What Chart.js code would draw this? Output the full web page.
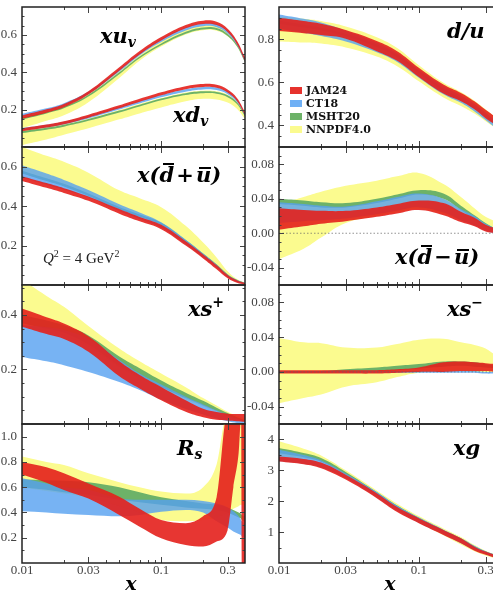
<!DOCTYPE html>
<html><head><meta charset="utf-8">
<script src="https://cdn.jsdelivr.net/npm/chart.js@4/dist/chart.umd.min.js"></script>
<style>
html,body{margin:0;padding:0;background:#fff;overflow:hidden;width:493px;height:592px}
#wrap{position:relative;width:493px;height:592px;overflow:hidden;background:#fff}
canvas{position:absolute}
.lab{position:absolute;font-family:"DejaVu Serif";font-weight:bold;font-style:italic;font-size:21px;line-height:21px;color:#000;white-space:nowrap}
.lab sub{font-size:14px;line-height:0;vertical-align:-4px}
.lab sup{font-size:14px;line-height:0;vertical-align:9px}
.ob{position:relative;display:inline-block}
.ob::before{content:"";position:absolute;left:4px;right:0px;border-top:2px solid #000}
.obd::before{top:-1px}
.obu::before{top:3px;left:3px}
.q{position:absolute;font-family:"Liberation Serif";font-size:15px;line-height:15px;color:#222;white-space:nowrap}
.q sup{font-size:10px;line-height:0;vertical-align:6px}
.leg{position:absolute;font-family:"DejaVu Serif";font-weight:bold;font-size:11px;line-height:11px;color:#111;white-space:nowrap}
.sw{position:absolute;width:12px;height:7px}
.xt{position:absolute;width:40px;text-align:center;font-family:"DejaVu Serif";font-weight:bold;font-style:italic;font-size:19px;line-height:19px;color:#000}
</style>
</head><body>
<div id="wrap">
<canvas id="c1"></canvas><canvas id="c2"></canvas><canvas id="c3"></canvas><canvas id="c4"></canvas>
<canvas id="c5"></canvas><canvas id="c6"></canvas><canvas id="c7"></canvas><canvas id="c8"></canvas>

<div class="lab" style="left:100px;top:25px">xu<sub>v</sub></div>
<div class="lab" style="left:173px;top:104px">xd<sub>v</sub></div>
<div class="lab" style="left:447px;top:20px">d/u</div>
<div class="lab" style="left:137px;top:164px">x(<span class="ob obd">d</span>&#8202;+&#8202;<span class="ob obu">u</span>)</div>
<div class="q" style="left:43px;top:251px"><i>Q</i><sup>2</sup> = 4 GeV<sup>2</sup></div>
<div class="lab" style="left:395px;top:246px">x(<span class="ob obd">d</span>&#8202;&minus;&#8202;<span class="ob obu">u</span>)</div>
<div class="lab" style="left:188px;top:298px">xs<sup>+</sup></div>
<div class="lab" style="left:447px;top:298px">xs<sup>&minus;</sup></div>
<div class="lab" style="left:177px;top:437px">R<sub>s</sub></div>
<div class="lab" style="left:453px;top:437px">xg</div>

<div class="sw" style="left:290px;top:86.5px;background:rgb(230,50,45)"></div>
<div class="leg" style="left:306px;top:84.7px">JAM24</div>
<div class="sw" style="left:290px;top:99.7px;background:rgb(111,176,245)"></div>
<div class="leg" style="left:306px;top:97.9px">CT18</div>
<div class="sw" style="left:290px;top:112.9px;background:rgb(109,178,104)"></div>
<div class="leg" style="left:306px;top:111.1px">MSHT20</div>
<div class="sw" style="left:290px;top:126.1px;background:rgb(251,251,143)"></div>
<div class="leg" style="left:306px;top:124.3px">NNPDF4.0</div>

<div class="xt" style="left:111px;top:574px">x</div>
<div class="xt" style="left:370px;top:574px">x</div>
</div>
<script>
// ---------------- data ----------------
const X = [0.01, 0.015, 0.02, 0.03, 0.05, 0.07, 0.1, 0.15, 0.2, 0.25, 0.3, 0.35, 0.4];
const RS_X = [0.01, 0.015, 0.02, 0.03, 0.05, 0.07, 0.1, 0.15, 0.2, 0.25, 0.3, 0.33, 0.36, 0.375, 0.38, 0.4];
const X_TICKS = [0.01, 0.03, 0.1, 0.3];
const X_LABELS = ['0.01', '0.03', '0.1', '0.3'];
const X_MINOR = [0.02, 0.04, 0.05, 0.06, 0.07, 0.08, 0.09, 0.2, 0.4];

// xu_v
const XUV_JAM24 = { lo: [0.151,0.184,0.213,0.281,0.409,0.496,0.571,0.636,0.659,0.653,0.616,0.551,0.461],
                    hi: [0.169,0.202,0.231,0.299,0.427,0.514,0.589,0.654,0.677,0.671,0.634,0.569,0.479] };
const XUV_CT18  = { lo: [0.163,0.192,0.220,0.283,0.403,0.490,0.562,0.624,0.647,0.642,0.607,0.547,0.457],
                    hi: [0.178,0.207,0.235,0.297,0.417,0.504,0.577,0.640,0.663,0.658,0.623,0.563,0.473] };
const XUV_MSHT20 = { lo: [0.147,0.180,0.207,0.270,0.390,0.475,0.545,0.607,0.630,0.627,0.595,0.540,0.455],
                     hi: [0.157,0.190,0.217,0.280,0.400,0.485,0.555,0.617,0.640,0.637,0.605,0.550,0.465] };
const XUV_NNPDF = { lo: [0.100,0.140,0.170,0.240,0.370,0.462,0.538,0.603,0.626,0.623,0.593,0.538,0.453],
                    hi: [0.160,0.190,0.218,0.282,0.405,0.490,0.565,0.628,0.650,0.648,0.612,0.552,0.468] };
// xd_v
const XDV_JAM24 = { lo: [0.084,0.104,0.122,0.157,0.207,0.242,0.277,0.310,0.322,0.317,0.292,0.247,0.172],
                    hi: [0.100,0.120,0.138,0.173,0.223,0.258,0.293,0.326,0.338,0.333,0.308,0.263,0.188] };
const XDV_CT18  = { lo: [0.088,0.105,0.121,0.153,0.201,0.233,0.266,0.296,0.308,0.305,0.283,0.241,0.168],
                    hi: [0.102,0.119,0.135,0.167,0.215,0.247,0.280,0.310,0.322,0.319,0.297,0.255,0.182] };
const XDV_MSHT20 = { lo: [0.075,0.093,0.109,0.140,0.185,0.217,0.250,0.278,0.288,0.285,0.267,0.230,0.165],
                     hi: [0.085,0.103,0.119,0.150,0.195,0.227,0.260,0.288,0.298,0.295,0.277,0.240,0.175] };
const XDV_NNPDF = { lo: [0.010,0.040,0.065,0.100,0.148,0.180,0.212,0.245,0.258,0.255,0.238,0.205,0.150],
                    hi: [0.090,0.108,0.123,0.152,0.198,0.230,0.262,0.292,0.302,0.298,0.280,0.242,0.175] };
// d/u
const DU_JAM24 = { lo: [0.838,0.828,0.820,0.803,0.745,0.700,0.625,0.548,0.512,0.475,0.434,0.405,0.378],
                   hi: [0.900,0.885,0.872,0.843,0.792,0.745,0.668,0.590,0.551,0.512,0.473,0.442,0.415] };
const DU_CT18  = { lo: [0.850,0.830,0.815,0.790,0.740,0.695,0.622,0.545,0.505,0.465,0.425,0.390,0.360],
                   hi: [0.915,0.895,0.878,0.840,0.785,0.735,0.660,0.583,0.540,0.500,0.460,0.425,0.395] };
const DU_MSHT20 = { lo: [0.872,0.855,0.842,0.814,0.764,0.716,0.642,0.559,0.516,0.477,0.439,0.404,0.372],
                    hi: [0.886,0.868,0.854,0.826,0.776,0.728,0.654,0.571,0.528,0.489,0.451,0.416,0.384] };
const DU_NNPDF = { lo: [0.790,0.785,0.780,0.762,0.720,0.675,0.605,0.530,0.490,0.455,0.420,0.390,0.360],
                   hi: [0.905,0.895,0.885,0.860,0.810,0.760,0.680,0.598,0.555,0.515,0.475,0.440,0.410] };
// x(dbar+ubar)
const SEA_JAM24 = { lo: [0.528,0.493,0.467,0.427,0.362,0.323,0.283,0.200,0.135,0.080,0.034,0.012,0.003],
                    hi: [0.552,0.517,0.491,0.449,0.385,0.345,0.305,0.222,0.155,0.100,0.051,0.024,0.010] };
const SEA_CT18  = { lo: [0.545,0.508,0.483,0.445,0.375,0.335,0.290,0.205,0.140,0.087,0.038,0.015,0.004],
                    hi: [0.607,0.565,0.533,0.482,0.410,0.368,0.318,0.230,0.160,0.103,0.052,0.025,0.010] };
const SEA_MSHT20 = { lo: [0.566,0.527,0.500,0.452,0.384,0.346,0.304,0.216,0.150,0.095,0.045,0.018,0.005],
                     hi: [0.580,0.541,0.513,0.464,0.396,0.358,0.316,0.228,0.160,0.105,0.055,0.026,0.010] };
const SEA_NNPDF = { lo: [0.575,0.535,0.508,0.460,0.390,0.350,0.305,0.220,0.155,0.100,0.048,0.020,0.005],
                    hi: [0.700,0.655,0.625,0.570,0.480,0.440,0.395,0.300,0.215,0.140,0.070,0.030,0.012] };
// x(dbar-ubar)
const ASY_JAM24 = { lo: [0.004,0.008,0.011,0.014,0.019,0.023,0.027,0.021,0.013,0.008,0.002,0.000,-0.002],
                    hi: [0.029,0.027,0.026,0.026,0.030,0.034,0.038,0.035,0.025,0.018,0.010,0.006,0.003] };
const ASY_CT18  = { lo: [0.012,0.014,0.015,0.017,0.022,0.026,0.030,0.024,0.015,0.009,0.003,0.000,-0.002],
                    hi: [0.036,0.034,0.032,0.031,0.037,0.042,0.046,0.040,0.028,0.020,0.011,0.006,0.003] };
const ASY_MSHT20 = { lo: [0.034,0.032,0.030,0.030,0.035,0.040,0.045,0.040,0.027,0.016,0.008,0.003,0.000],
                     hi: [0.040,0.038,0.036,0.035,0.040,0.045,0.050,0.046,0.032,0.021,0.012,0.006,0.002] };
const ASY_NNPDF = { lo: [-0.030,-0.018,-0.005,0.012,0.020,0.024,0.028,0.022,0.015,0.010,0.005,0.002,0.000],
                    hi: [0.034,0.042,0.048,0.055,0.061,0.066,0.070,0.057,0.042,0.029,0.019,0.014,0.010] };
// xs+
const SP_JAM24 = { lo: [0.357,0.330,0.312,0.265,0.175,0.130,0.087,0.045,0.025,0.016,0.013,0.010,0.008],
                   hi: [0.424,0.392,0.369,0.322,0.230,0.180,0.136,0.087,0.056,0.044,0.038,0.037,0.037] };
const SP_CT18  = { lo: [0.246,0.230,0.216,0.191,0.154,0.125,0.090,0.055,0.035,0.020,0.010,0.004,0.000],
                   hi: [0.363,0.355,0.345,0.312,0.235,0.185,0.145,0.100,0.072,0.050,0.032,0.020,0.010] };
const SP_MSHT20 = { lo: [0.370,0.350,0.335,0.292,0.215,0.175,0.135,0.095,0.068,0.048,0.030,0.018,0.008],
                    hi: [0.400,0.380,0.362,0.325,0.248,0.205,0.160,0.115,0.085,0.060,0.040,0.025,0.014] };
const SP_NNPDF = { lo: [0.360,0.340,0.325,0.285,0.210,0.170,0.130,0.090,0.065,0.045,0.028,0.016,0.006],
                   hi: [0.530,0.470,0.430,0.360,0.277,0.230,0.185,0.135,0.095,0.068,0.045,0.030,0.020] };
// xs-
const SM_JAM24 = { lo: [-0.002,-0.002,-0.002,-0.002,-0.002,-0.001,0.000,0.000,0.001,0.001,0.001,0.000,-0.001],
                   hi: [0.002,0.002,0.002,0.002,0.002,0.003,0.005,0.011,0.012,0.011,0.010,0.009,0.008] };
const SM_CT18  = { lo: [-0.001,-0.001,-0.001,-0.001,-0.001,-0.001,-0.001,-0.001,-0.001,-0.001,-0.002,-0.002,-0.002],
                   hi: [0.001,0.001,0.001,0.001,0.001,0.001,0.001,0.001,0.001,0.001,0.000,0.000,0.000] };
const SM_MSHT20 = { lo: [-0.001,-0.001,-0.001,0.000,0.001,0.002,0.004,0.006,0.007,0.006,0.005,0.004,0.003],
                    hi: [0.001,0.001,0.001,0.003,0.005,0.007,0.009,0.012,0.012,0.011,0.009,0.007,0.005] };
const SM_NNPDF = { lo: [-0.036,-0.030,-0.026,-0.017,-0.012,-0.006,-0.001,0.001,0.001,0.000,0.000,0.000,0.000],
                   hi: [0.039,0.034,0.033,0.028,0.028,0.032,0.037,0.038,0.034,0.031,0.027,0.020,0.015] };
// R_s (on RS_X)
const RS_JAM24 = { lo: [0.70,0.636,0.578,0.51,0.38,0.287,0.195,0.143,0.13,0.17,0.26,0.60,0.87,1.15,0.0,0.0],
                   hi: [0.80,0.757,0.71,0.63,0.525,0.43,0.34,0.315,0.37,0.52,1.2,1.2,1.2,1.2,1.2,1.2] };
const RS_CT18  = { lo: [0.41,0.40,0.39,0.38,0.37,0.38,0.405,0.42,0.40,0.33,0.28,0.25,0.23,0.22,0.21,0.20],
                   hi: [0.67,0.63,0.60,0.58,0.51,0.50,0.50,0.50,0.49,0.47,0.44,0.41,0.37,0.34,0.33,0.30] };
const RS_MSHT20 = { lo: [0.60,0.58,0.56,0.54,0.50,0.48,0.46,0.44,0.43,0.42,0.40,0.38,0.36,0.35,0.34,0.33],
                    hi: [0.66,0.655,0.65,0.64,0.60,0.56,0.52,0.49,0.47,0.46,0.44,0.42,0.40,0.39,0.38,0.37] };
const RS_NNPDF = { lo: [0.60,0.57,0.55,0.52,0.45,0.40,0.34,0.33,0.34,0.36,0.40,0.43,0.45,0.46,0.46,0.46],
                   hi: [0.842,0.80,0.776,0.71,0.64,0.60,0.565,0.55,0.60,0.78,1.2,1.2,1.2,1.2,1.2,1.2] };
// xg
const XG_JAM24 = { lo: [3.29,3.20,3.07,2.70,2.10,1.65,1.29,0.91,0.64,0.40,0.27,0.17,0.10],
                   hi: [3.45,3.37,3.25,2.86,2.26,1.81,1.45,1.07,0.80,0.53,0.37,0.26,0.17] };
const XG_CT18  = { lo: [3.30,3.21,3.09,2.74,2.12,1.68,1.30,0.92,0.64,0.42,0.28,0.18,0.11],
                   hi: [3.67,3.50,3.33,2.90,2.30,1.85,1.47,1.08,0.80,0.55,0.38,0.27,0.18] };
const XG_MSHT20 = { lo: [3.55,3.42,3.28,2.86,2.22,1.78,1.40,1.00,0.74,0.50,0.34,0.24,0.16],
                    hi: [3.72,3.56,3.40,2.95,2.30,1.86,1.47,1.07,0.80,0.55,0.38,0.27,0.18] };
const XG_NNPDF = { lo: [3.45,3.38,3.28,2.88,2.22,1.75,1.33,0.90,0.60,0.38,0.24,0.15,0.09],
                   hi: [3.94,3.70,3.48,3.00,2.35,1.92,1.52,1.12,0.84,0.58,0.40,0.28,0.19] };

// y tick labels
const Y1_TICKS = [0.2, 0.4, 0.6];          const Y1_LABELS = ['0.2', '0.4', '0.6'];
const Y2_TICKS = [0.4, 0.6, 0.8];          const Y2_LABELS = ['0.4', '0.6', '0.8'];
const Y3_TICKS = [0.2, 0.4, 0.6];          const Y3_LABELS = ['0.2', '0.4', '0.6'];
const Y4_TICKS = [-0.04, 0, 0.04, 0.08];   const Y4_LABELS = ['-0.04', '0.00', '0.04', '0.08'];
const Y5_TICKS = [0.2, 0.4];               const Y5_LABELS = ['0.2', '0.4'];
const Y6_TICKS = [-0.04, 0, 0.04, 0.08];   const Y6_LABELS = ['-0.04', '0.00', '0.04', '0.08'];
const Y7_TICKS = [0.2, 0.4, 0.6, 0.8, 1.0]; const Y7_LABELS = ['0.2', '0.4', '0.6', '0.8', '1.0'];
const Y8_TICKS = [1, 2, 3, 4];             const Y8_LABELS = ['1', '2', '3', '4'];

// ---------------- styles ----------------
const COL_JAM = 'rgba(228,32,28,0.9)';
const COL_CT = 'rgba(85,160,240,0.8)';
const COL_MSHT = 'rgb(109,178,104)';
const COL_NN = 'rgb(251,251,143)';

const GEOM = {
  colLeft: [0, 245], yW: [22, 34], plotW: [223, 224],
  top: [7, 147, 285, 424], bottom: [147, 285, 424, 563]
};

function minorRange(min, max, step) {
  const out = [];
  const n0 = Math.ceil(min / step - 1e-9), n1 = Math.floor(max / step + 1e-9);
  for (let n = n0; n <= n1; n++) out.push(+(n * step).toFixed(6));
  return out;
}

const frameTicks = {
  id: 'frameTicks',
  afterDatasetsDraw(chart, args, o) {
    const {ctx, chartArea: a} = chart;
    const xs = chart.scales.x, ys = chart.scales.y;
    ctx.save();
    if (o.zero) {
      ctx.beginPath();
      ctx.setLineDash([1.5, 2]);
      ctx.strokeStyle = '#666'; ctx.lineWidth = 0.7;
      const py = ys.getPixelForValue(0);
      ctx.moveTo(a.left, py); ctx.lineTo(a.right, py); ctx.stroke();
      ctx.setLineDash([]);
    }
    ctx.strokeStyle = '#444'; ctx.lineWidth = 1;
    ctx.beginPath();
    const yt = (v, len) => { const p = Math.round(ys.getPixelForValue(v)) + 0.5;
      if (p < a.top + 1 || p > a.bottom - 1) return;
      ctx.moveTo(a.left, p); ctx.lineTo(a.left + len, p);
      ctx.moveTo(a.right, p); ctx.lineTo(a.right - len, p); };
    const xt = (v, len) => { const p = Math.round(xs.getPixelForValue(v)) + 0.5;
      if (p < a.left + 1 || p > a.right - 1) return;
      ctx.moveTo(p, a.bottom); ctx.lineTo(p, a.bottom - len);
      ctx.moveTo(p, a.top); ctx.lineTo(p, a.top + len); };
    o.yMajor.forEach(v => yt(v, 5));
    minorRange(ys.min, ys.max, o.yStep).forEach(v => { if (!o.yMajor.some(m => Math.abs(m - v) < 1e-9)) yt(v, 2.5); });
    X_TICKS.forEach(v => xt(v, 6));
    X_MINOR.forEach(v => xt(v, 3));
    ctx.stroke();
    ctx.strokeStyle = '#222'; ctx.lineWidth = 1.5;
    ctx.strokeRect(a.left, a.top, a.right - a.left, a.bottom - a.top);
    ctx.restore();
  }
};

function makePanel(id, p) {
  const c = p.col, r = p.row, last = r === 3;
  const xH = last ? 29 : 0, pb = last ? 0 : 2;
  const width = GEOM.yW[c] + GEOM.plotW[c] + 2;
  const height = (GEOM.bottom[r] - GEOM.top[r]) + 2 + pb + xH;
  const cv = document.getElementById(id);
  cv.width = width; cv.height = height;
  cv.style.left = GEOM.colLeft[c] + 'px';
  cv.style.top = (GEOM.top[r] - 2) + 'px';
  cv.style.width = width + 'px'; cv.style.height = height + 'px';

  const curve = p.mono ? { cubicInterpolationMode: 'monotone' } : { tension: 0.4 };
  const datasets = [];
  p.bands.forEach(b => {
    datasets.push(Object.assign({ data: b.lo, fill: false, borderColor: 'transparent', borderWidth: 0, pointRadius: 0 }, curve));
    datasets.push(Object.assign({ data: b.hi, fill: '-1', backgroundColor: b.color, borderColor: 'transparent', borderWidth: 0, pointRadius: 0 }, curve));
  });

  return new Chart(cv, {
    type: 'line',
    data: { labels: p.x, datasets },
    options: {
      responsive: false, animation: false, devicePixelRatio: 1,
      layout: { padding: { left: 0, top: 2, right: 2, bottom: pb } },
      plugins: { legend: { display: false }, tooltip: { enabled: false },
                 frameTicks: { yMajor: p.yTicks, yStep: p.yStep, zero: !!p.zero } },
      scales: {
        x: {
          type: 'logarithmic', min: 0.01, max: 0.4,
          grid: { display: false, drawTicks: false }, border: { display: false },
          ticks: { display: last, padding: 0, color: '#444', font: { family: 'Liberation Serif', size: 13 },
                   callback: (v, i) => X_LABELS[i] },
          afterBuildTicks: s => { s.ticks = X_TICKS.map(v => ({ value: v })); },
          afterFit: s => { s.height = xH; s.paddingLeft = 0; s.paddingRight = 0; }
        },
        y: {
          type: 'linear', min: p.yMin, max: p.yMax,
          grid: { display: false, drawTicks: false }, border: { display: false },
          ticks: { padding: 5, color: '#444', font: { family: 'Liberation Serif', size: 13 },
                   callback: (v, i) => p.yLabels[i] },
          afterBuildTicks: s => { s.ticks = p.yTicks.map(v => ({ value: v })); },
          afterFit: s => { s.width = GEOM.yW[c]; s.paddingTop = 0; s.paddingBottom = 0; }
        }
      }
    },
    plugins: [frameTicks]
  });
}

makePanel('c1', { col: 0, row: 0, x: X, yMin: 0, yMax: 0.75, yTicks: Y1_TICKS, yLabels: Y1_LABELS, yStep: 0.05,
  bands: [ {lo: XUV_JAM24.lo, hi: XUV_JAM24.hi, color: COL_JAM}, {lo: XDV_JAM24.lo, hi: XDV_JAM24.hi, color: COL_JAM},
           {lo: XUV_CT18.lo, hi: XUV_CT18.hi, color: COL_CT}, {lo: XDV_CT18.lo, hi: XDV_CT18.hi, color: COL_CT},
           {lo: XUV_MSHT20.lo, hi: XUV_MSHT20.hi, color: COL_MSHT}, {lo: XDV_MSHT20.lo, hi: XDV_MSHT20.hi, color: COL_MSHT},
           {lo: XUV_NNPDF.lo, hi: XUV_NNPDF.hi, color: COL_NN}, {lo: XDV_NNPDF.lo, hi: XDV_NNPDF.hi, color: COL_NN} ] });

function four(J, C, M, N) {
  return [ {lo: J.lo, hi: J.hi, color: COL_JAM}, {lo: C.lo, hi: C.hi, color: COL_CT},
           {lo: M.lo, hi: M.hi, color: COL_MSHT}, {lo: N.lo, hi: N.hi, color: COL_NN} ];
}

makePanel('c2', { col: 1, row: 0, x: X, yMin: 0.3, yMax: 0.95, yTicks: Y2_TICKS, yLabels: Y2_LABELS, yStep: 0.05,
  bands: four(DU_JAM24, DU_CT18, DU_MSHT20, DU_NNPDF) });
makePanel('c3', { col: 0, row: 1, x: X, yMin: 0, yMax: 0.7, yTicks: Y3_TICKS, yLabels: Y3_LABELS, yStep: 0.05,
  bands: four(SEA_JAM24, SEA_CT18, SEA_MSHT20, SEA_NNPDF) });
makePanel('c4', { col: 1, row: 1, x: X, yMin: -0.06, yMax: 0.1, yTicks: Y4_TICKS, yLabels: Y4_LABELS, yStep: 0.01, zero: true,
  bands: four(ASY_JAM24, ASY_CT18, ASY_MSHT20, ASY_NNPDF) });
makePanel('c5', { col: 0, row: 2, x: X, yMin: 0, yMax: 0.51, yTicks: Y5_TICKS, yLabels: Y5_LABELS, yStep: 0.05,
  bands: four(SP_JAM24, SP_CT18, SP_MSHT20, SP_NNPDF) });
makePanel('c6', { col: 1, row: 2, x: X, yMin: -0.06, yMax: 0.1, yTicks: Y6_TICKS, yLabels: Y6_LABELS, yStep: 0.01, zero: true,
  bands: four(SM_JAM24, SM_CT18, SM_MSHT20, SM_NNPDF) });
makePanel('c7', { col: 0, row: 3, x: RS_X, yMin: 0, yMax: 1.1, yTicks: Y7_TICKS, yLabels: Y7_LABELS, yStep: 0.1, mono: true,
  bands: four(RS_JAM24, RS_CT18, RS_MSHT20, RS_NNPDF) });
makePanel('c8', { col: 1, row: 3, x: X, yMin: 0, yMax: 4.5, yTicks: Y8_TICKS, yLabels: Y8_LABELS, yStep: 0.5,
  bands: four(XG_JAM24, XG_CT18, XG_MSHT20, XG_NNPDF) });
</script>
</body></html>
